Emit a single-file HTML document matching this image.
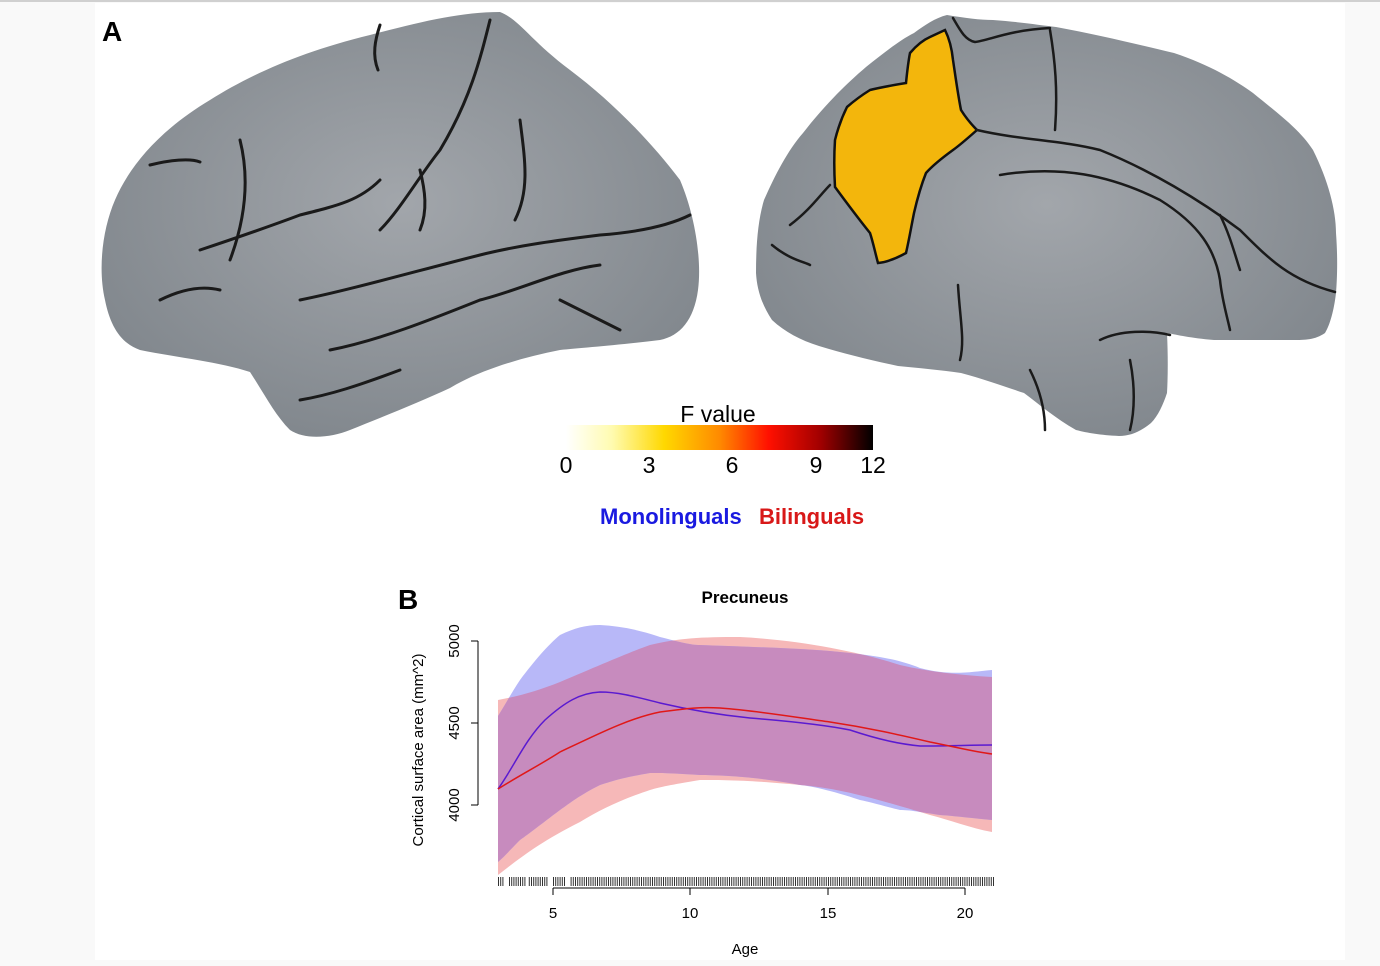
<!DOCTYPE html>
<html><head><meta charset="utf-8"><style>
body{margin:0;background:#f9f9f9;}
#w{position:relative;width:1380px;height:966px;overflow:hidden;background:#f9f9f9;}
svg{position:absolute;left:0;top:0}
</style></head><body><div id="w">
<svg width="1380" height="966" viewBox="0 0 1380 966" xmlns="http://www.w3.org/2000/svg">
<defs>
<linearGradient id="cb" x1="0" x2="1">
<stop offset="0" stop-color="#ffffff"/><stop offset="0.15" stop-color="#fffbb0"/>
<stop offset="0.32" stop-color="#ffd800"/><stop offset="0.5" stop-color="#ff8a00"/>
<stop offset="0.66" stop-color="#ff1000"/><stop offset="0.83" stop-color="#a00000"/>
<stop offset="1" stop-color="#000000"/></linearGradient>
<radialGradient id="gr" cx="0.5" cy="0.45" r="0.6"><stop offset="0" stop-color="#a2a6ab"/><stop offset="1" stop-color="#80868c"/></radialGradient>
<clipPath id="redc"><path d="M498,700 C520,696 540,690 560,682 C600,665 630,652 650,645 C680,638 700,637 740,637 C800,640 860,652 900,665 C930,672 960,675 992,677 L992,832 C970,828 950,820 930,815 C880,800 840,788 800,785 C750,780 720,780 700,780 C670,785 660,787 650,790 C620,800 600,810 580,822 C540,842 520,858 498,875 Z"/></clipPath>
</defs>
<rect x="95" y="3" width="1250" height="957" fill="#fff"/>
<rect x="0" y="0" width="1380" height="2" fill="#d0d0d0"/>
<text x="102" y="41" font-family="Liberation Sans, sans-serif" font-weight="bold" font-size="28">A</text>
<!-- left brain -->
<path d="M105,300 C98,270 102,230 115,200 C130,165 160,130 210,100 C250,75 300,52 370,35 C420,22 460,12 500,12 C520,20 530,40 570,70 C610,100 650,140 680,180 C695,215 702,260 698,290 C694,320 680,336 660,340 C620,345 580,348 560,350 C520,358 480,370 450,388 C420,402 380,418 350,430 C330,438 305,440 290,430 C275,415 265,395 250,372 C220,362 180,358 140,350 C120,343 110,325 105,300 Z" fill="url(#gr)"/>
<g stroke="#1a1a1a" stroke-width="3" fill="none" stroke-linecap="round">
<path d="M490,20 C480,60 470,100 440,150 C420,175 400,210 380,230"/>
<path d="M380,25 C375,40 372,55 378,70"/>
<path d="M240,140 C250,180 245,220 230,260"/>
<path d="M150,165 C170,160 190,158 200,162"/>
<path d="M200,250 C230,240 260,230 300,215 C340,205 360,200 380,180"/>
<path d="M300,300 C350,290 420,270 480,255 C520,245 560,240 600,235 C640,232 670,225 690,215"/>
<path d="M330,350 C380,340 430,320 480,300 C520,290 560,270 600,265"/>
<path d="M520,120 C525,160 530,190 515,220"/>
<path d="M420,170 C425,190 428,210 420,230"/>
<path d="M560,300 C580,310 600,320 620,330"/>
<path d="M160,300 C180,290 200,285 220,290"/>
<path d="M300,400 C330,395 360,385 400,370"/>
</g>
<!-- right brain -->
<path d="M947,15 C965,18 980,20 993,20 C1020,22 1040,25 1056,27 C1100,35 1140,45 1174,53 C1210,65 1235,80 1253,93 C1280,115 1300,130 1313,150 C1328,180 1336,210 1336,233 C1338,260 1337,280 1336,293 C1334,310 1330,325 1325,333 C1315,340 1305,340 1293,340 C1260,340 1235,340 1214,340 C1190,338 1178,335 1167,333 C1168,355 1168,375 1167,393 C1163,405 1158,416 1151,423 C1140,432 1130,436 1119,436 C1100,435 1088,433 1076,430 C1055,418 1040,405 1024,393 C1000,385 980,378 961,373 C940,370 918,368 898,366 C870,360 845,354 819,346 C800,340 785,332 772,320 C762,305 757,290 756,273 C756,245 758,220 764,200 C775,175 788,150 803,133 C825,105 845,85 866,67 C885,52 900,40 914,33 C925,25 935,18 947,15 Z" fill="url(#gr)"/>
<path d="M945,30 C950,40 952,50 953,60 C956,80 958,95 961,110 C966,118 972,125 977,130 C968,138 960,145 953,150 C942,158 933,165 926,173 C920,188 917,200 914,213 C911,228 909,240 906,253 C897,258 888,262 878,263 C875,252 873,242 870,233 C858,218 846,202 835,187 C834,170 834,155 835,140 C838,128 842,117 847,107 C855,100 862,95 870,90 C882,87 894,85 906,83 C907,73 908,63 910,53 C916,46 923,40 930,37 Z" fill="#f3b60c" stroke="#111" stroke-width="2.5"/>
<g stroke="#1a1a1a" stroke-width="2.5" fill="none" stroke-linecap="round">
<path d="M953,18 C960,30 965,40 975,42 C990,40 1010,30 1050,28"/>
<path d="M1050,30 C1055,60 1058,90 1055,130"/>
<path d="M977,130 C1020,140 1060,140 1100,150 C1150,170 1200,200 1240,230 C1270,260 1290,280 1335,292"/>
<path d="M1000,175 C1060,165 1110,175 1160,200 C1200,225 1215,250 1220,280 C1222,300 1228,320 1230,330"/>
<path d="M1220,215 C1230,235 1235,255 1240,270"/>
<path d="M958,285 C960,320 965,340 960,360"/>
<path d="M1100,340 C1120,330 1150,330 1170,335"/>
<path d="M1030,370 C1040,390 1045,410 1045,430"/>
<path d="M772,245 C790,260 805,262 810,265"/>
<path d="M790,225 C810,210 820,195 830,185"/>
<path d="M1130,360 C1135,385 1135,410 1130,430"/>
</g>
<!-- colorbar -->
<text x="718" y="422" text-anchor="middle" font-family="Liberation Sans, sans-serif" font-size="23">F value</text>
<rect x="566" y="425" width="307" height="25" fill="url(#cb)"/>
<g font-family="Liberation Sans, sans-serif" font-size="23" text-anchor="middle">
<text x="566" y="473">0</text><text x="649" y="473">3</text><text x="732" y="473">6</text><text x="816" y="473">9</text><text x="873" y="473">12</text></g>
<text x="600" y="524" font-family="Liberation Sans, sans-serif" font-weight="bold" font-size="22" fill="#1a1ae0">Monolinguals</text>
<text x="759" y="524" font-family="Liberation Sans, sans-serif" font-weight="bold" font-size="22" fill="#d81818">Bilinguals</text>
<!-- chart B -->
<text x="398" y="609" font-family="Liberation Sans, sans-serif" font-weight="bold" font-size="28">B</text>
<text x="745" y="603" text-anchor="middle" font-family="Liberation Sans, sans-serif" font-weight="bold" font-size="17">Precuneus</text>
<path d="M498,700 C520,696 540,690 560,682 C600,665 630,652 650,645 C680,638 700,637 740,637 C800,640 860,652 900,665 C930,672 960,675 992,677 L992,832 C970,828 950,820 930,815 C880,800 840,788 800,785 C750,780 720,780 700,780 C670,785 660,787 650,790 C620,800 600,810 580,822 C540,842 520,858 498,875 Z" fill="#f6b8b8"/>
<path d="M498,716 C505,705 512,692 520,680 C535,660 548,645 560,635 C575,628 585,625 600,625 C620,626 640,630 660,637 C680,642 690,645 700,645 C750,647 800,648 840,652 C880,656 900,660 920,668 C950,676 970,672 992,670 L992,820 C970,818 955,816 940,815 C920,812 910,810 900,810 C880,805 870,802 860,800 C830,790 810,786 800,785 C760,777 720,775 700,775 C670,773 660,773 650,773 C620,778 610,782 600,785 C580,795 570,803 560,810 C540,825 530,833 520,840 C510,850 505,856 498,862 Z" fill="#b8b8f8"/>
<g clip-path="url(#redc)">
<path d="M498,716 C505,705 512,692 520,680 C535,660 548,645 560,635 C575,628 585,625 600,625 C620,626 640,630 660,637 C680,642 690,645 700,645 C750,647 800,648 840,652 C880,656 900,660 920,668 C950,676 970,672 992,670 L992,820 C970,818 955,816 940,815 C920,812 910,810 900,810 C880,805 870,802 860,800 C830,790 810,786 800,785 C760,777 720,775 700,775 C670,773 660,773 650,773 C620,778 610,782 600,785 C580,795 570,803 560,810 C540,825 530,833 520,840 C510,850 505,856 498,862 Z" fill="#c78bbe"/>
</g>
<path d="M498,789 C515,765 525,740 545,720 C565,702 580,693 600,692 C620,692 640,698 660,703 C690,710 720,715 750,718 C800,722 830,726 850,730 C880,740 900,744 920,746 C950,746 970,745 992,745" stroke="#5a1ad0" stroke-width="1.5" fill="none"/>
<path d="M498,789 C520,775 540,765 560,752 C600,733 630,718 660,712 C690,708 700,707 720,708 C760,711 800,718 830,722 C870,728 900,735 930,742 C960,748 975,752 992,754" stroke="#e01818" stroke-width="1.5" fill="none"/>
<g stroke="#000" stroke-width="1" fill="none">
<path d="M478,641 V805 M478,641 h-7 M478,723 h-7 M478,805 h-7"/>
<path d="M553,888 H965 M553,888 v7 M690,888 v7 M828,888 v7 M965,888 v7"/>
</g>
<g id="rug" stroke="#333" stroke-width="1"></g>
<g font-family="Liberation Sans, sans-serif" font-size="15" text-anchor="middle">
<text x="553" y="918">5</text><text x="690" y="918">10</text><text x="828" y="918">15</text><text x="965" y="918">20</text>
<text x="745" y="954" font-size="15">Age</text>
<text transform="translate(459,641) rotate(-90)">5000</text>
<text transform="translate(459,723) rotate(-90)">4500</text>
<text transform="translate(459,805) rotate(-90)">4000</text>
<text transform="translate(423,750) rotate(-90)" font-size="15">Cortical surface area  (mm^2)</text>
</g>
</svg>
<script>
var g=document.getElementById('rug'),s='';
var gaps=[[503,508],[525,528],[549,553],[566,569]];
for(var x=498.5;x<=995;x+=2.2){var skip=false;for(var i=0;i<gaps.length;i++)if(x>gaps[i][0]&&x<gaps[i][1])skip=true;if(!skip)s+='M'+x.toFixed(1)+',877V886';}
var p=document.createElementNS('http://www.w3.org/2000/svg','path');p.setAttribute('d',s);g.appendChild(p);
</script>
</div></body></html>
